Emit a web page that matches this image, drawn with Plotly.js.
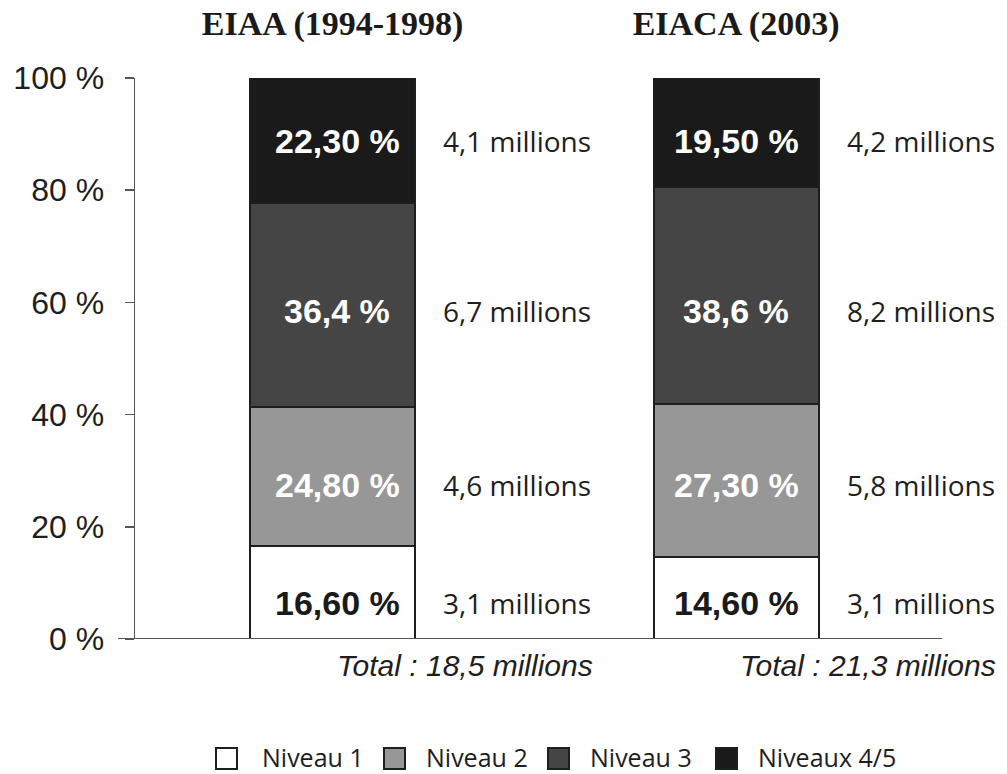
<!DOCTYPE html>
<html>
<head>
<meta charset="utf-8">
<script src="https://cdn.plot.ly/plotly-3.0.1.min.js"></script>
<style>html,body{margin:0;padding:0;background:#fff;}#chart{width:1007px;height:774px;}</style>
</head>
<body>
<div id="chart"></div>
<script>
// ---- DATA ----
const surveys = ["EIAA (1994-1998)", "EIACA (2003)"];
const levels = ["Niveau 1", "Niveau 2", "Niveau 3", "Niveaux 4/5"];
const pctEIAA = [16.6, 24.8, 36.4, 22.3];
const pctEIACA = [14.6, 27.3, 38.6, 19.5];
const pctLabelsEIAA = ["16,60 %", "24,80 %", "36,4 %", "22,30 %"];
const pctLabelsEIACA = ["14,60 %", "27,30 %", "38,6 %", "19,50 %"];
const millionsEIAA = ["3,1", "4,6", "6,7", "4,1"];
const millionsEIACA = ["3,1", "5,8", "8,2", "4,2"];
const totals = ["18,5", "21,3"];
const yTicks = [0, 20, 40, 60, 80, 100];

// ---- STYLE / LAYOUT CONSTANTS ----
const colors = ["#ffffff", "#979797", "#454545", "#1a1a1a"];
const labelColors = ["#1a1a1a", "#ffffff", "#ffffff", "#ffffff"];
const rowY = [6.4, 27.5, 58.4, 88.75]; // vertical rows of the labels
const W = 1007, H = 774, ML = 135, MR = 7, MT = 78, MB = 135;
const PW = W - ML - MR, PH = H - MT - MB;
const px2x = p => (p - ML) / PW;
const px2y = p => (H - MB - p) / PH;

const pctBySurvey = [pctEIAA, pctEIACA];
const labBySurvey = [pctLabelsEIAA, pctLabelsEIACA];
const milBySurvey = [millionsEIAA, millionsEIACA];

const traces = levels.map((lv, j) => ({
  type: "bar",
  name: lv,
  x: surveys,
  y: pctBySurvey.map(s => s[j]),
  width: 0.409,
  marker: {color: colors[j], line: {color: "#1e1e1e", width: 2}},
  hoverinfo: "skip",
  showlegend: false
}));

const annotations = [];
surveys.forEach((s, i) => {
  levels.forEach((lv, j) => {
    annotations.push({
      x: i + (i === 0 ? 0.012 : 0), y: rowY[j], xref: "x", yref: "y",
      text: "<b>" + labBySurvey[i][j] + "</b>",
      showarrow: false, xanchor: "center", yanchor: "middle",
      font: {family: "Liberation Sans, Arial, sans-serif", size: 34, color: labelColors[j]}
    });
    annotations.push({
      x: i + 0.27, y: rowY[j], xref: "x", yref: "y",
      text: milBySurvey[i][j] + " millions",
      showarrow: false, xanchor: "left", yanchor: "middle",
      font: {family: "Open Sans, sans-serif", size: 28, color: "#1e1e1e"}
    });
  });
  annotations.push({
    x: i + 0.65, y: px2y(665), xref: "x", yref: "paper",
    text: "<i>Total : " + totals[i] + " millions</i>",
    showarrow: false, xanchor: "right", yanchor: "middle",
    font: {family: "Liberation Sans, Arial, sans-serif", size: 30, color: "#1e1e1e"}
  });
});

// custom legend
const legendSq = [216, 384, 548, 716];
const shapes = [{
  type: "line", xref: "paper", yref: "y",
  x0: px2x(118), x1: px2x(942), y0: 0, y1: 0,
  line: {color: "#555555", width: 2}
}];
levels.forEach((lv, j) => {
  const x0 = legendSq[j];
  shapes.push({
    type: "rect", xref: "paper", yref: "paper",
    x0: px2x(x0), x1: px2x(x0 + 21), y0: px2y(748), y1: px2y(769),
    fillcolor: colors[j], line: {color: "#1e1e1e", width: 2}
  });
  annotations.push({
    x: px2x(x0 + (j === 0 ? 45 : 41)), y: px2y(757), xref: "paper", yref: "paper",
    text: lv, showarrow: false, xanchor: "left", yanchor: "middle", borderpad: 0,
    font: {family: "Open Sans, sans-serif", size: 25, color: "#1e1e1e"}
  });
});

const layout = {
  width: W, height: H,
  margin: {l: ML, r: MR, t: MT, b: MB, pad: 0},
  paper_bgcolor: "#ffffff", plot_bgcolor: "#ffffff",
  barmode: "stack",
  showlegend: false,
  xaxis: {
    type: "category", side: "top",
    range: [-0.4895, 1.654],
    showline: false, showgrid: false, zeroline: false, ticks: "",
    tickfont: {family: "Liberation Serif, Times New Roman, serif", size: 34, color: "#1a1a1a", weight: "bold"},
    ticklabelstandoff: 35,
    automargin: false, fixedrange: true
  },
  yaxis: {
    range: [0, 100], tickvals: yTicks, ticktext: yTicks.map(v => v + " %"),
    showline: true, linecolor: "#555555", linewidth: 1.5,
    ticks: "outside", ticklen: 9, tickcolor: "#555555", tickwidth: 1.5,
    showgrid: false, zeroline: false,
    tickfont: {family: "Liberation Sans, Arial, sans-serif", size: 32, color: "#1e1e1e"},
    ticklabelstandoff: 14,
    automargin: false, fixedrange: true
  },
  shapes: shapes,
  annotations: annotations
};

Plotly.newPlot("chart", traces, layout, {displayModeBar: false, staticPlot: true});
</script>
</body>
</html>
